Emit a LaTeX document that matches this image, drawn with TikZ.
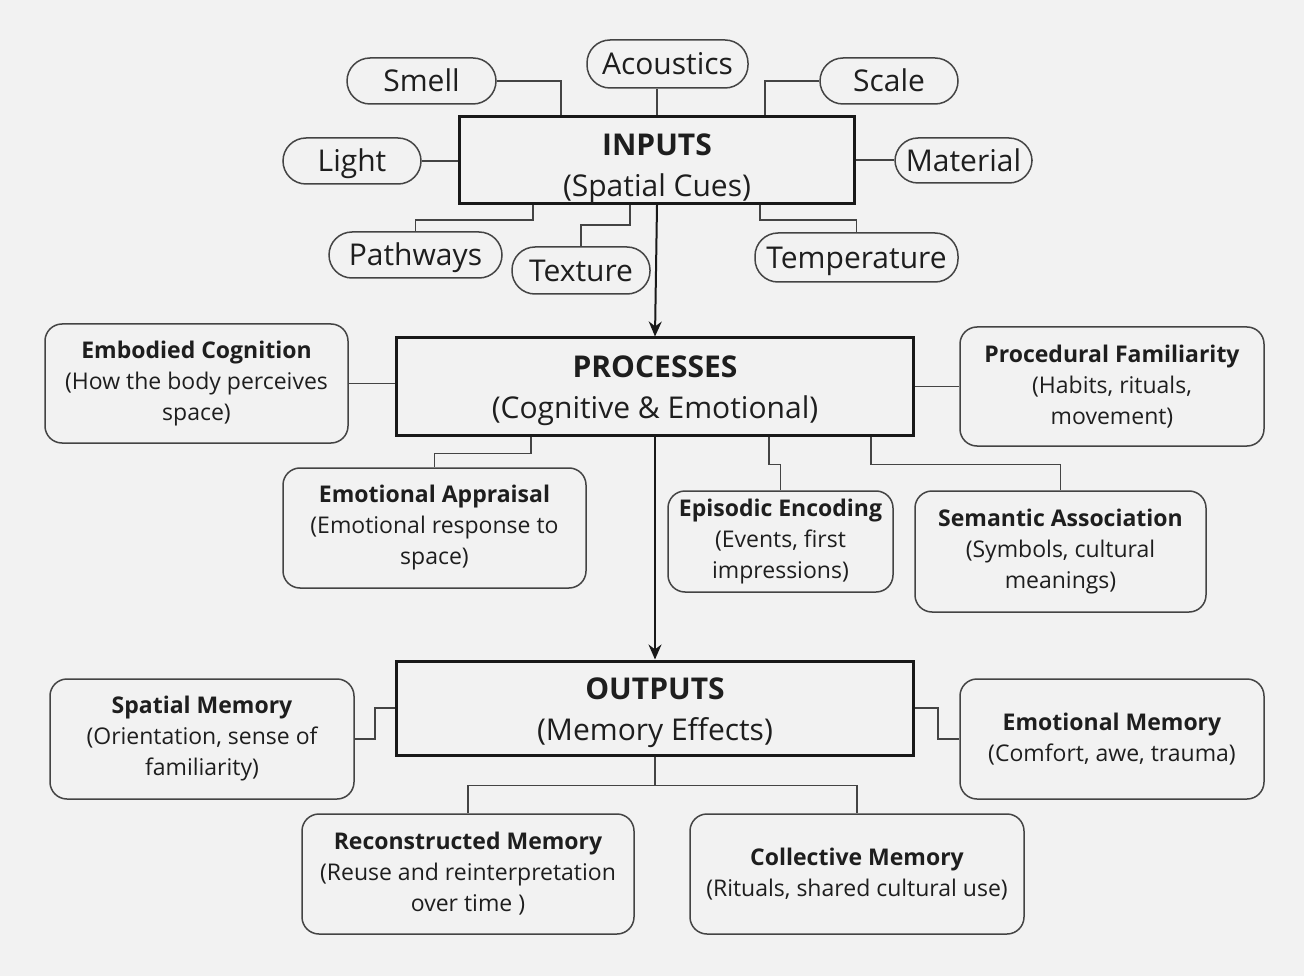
\documentclass[tikz,border=0pt]{standalone}
\usepackage{fontspec}
\setmainfont{Open Sans}
\usetikzlibrary{arrows.meta}
\definecolor{bggray}{HTML}{F2F2F2}
\definecolor{edgegray}{HTML}{444444}
\definecolor{inkgray}{HTML}{1E1E1E}
\tikzstyle{mainbox} = [draw=black!90, line width=3pt, fill=bggray, align=center, inner sep=0pt, text=inkgray, font=\fontsize{30}{41}\selectfont]
\tikzstyle{cue} = [draw=edgegray, line width=1.5pt, rounded corners=23pt, inner sep=0pt, text height=22pt, text depth=0pt, text=inkgray, font=\fontsize{30}{36}\selectfont]
\tikzstyle{effect} = [draw=edgegray, line width=1.5pt, rounded corners=17pt, align=center, inner sep=0pt, text=inkgray, font=\fontsize{23}{31}\selectfont]
\tikzstyle{link} = [draw=edgegray, line width=1.5pt]
\tikzstyle{flow} = [draw=black!90, line width=2pt, -{Stealth[length=15pt,width=13pt]}]

\begin{document}
\begin{tikzpicture}[x=1pt, y=-1pt]
		\fill[bggray] (0,0) rectangle (1304,976);
		\useasboundingbox (0,0) rectangle (1304,976);
		
		% main stages
		\node [mainbox, minimum width=395, minimum height=85] (inputs) at (657,160) {\rule{0pt}{39pt}\textbf{INPUTS}\\(Spatial Cues)};
		\node [mainbox, minimum width=517, minimum height=97] (processes) at (655,386.5) {\rule{0pt}{31pt}\textbf{PROCESSES}\\(Cognitive \& Emotional)};
		\node [mainbox, minimum width=517, minimum height=94] (outputs) at (655,708) {\rule{0pt}{31pt}\textbf{OUTPUTS}\\(Memory Effects)};
		
		% spatial cues
		\node [cue, minimum width=149, minimum height=46] (smell) at (421.5,81) {Smell};
		\node [cue, minimum width=161, minimum height=48] (acoustics) at (667.5,64) {Acoustics};
		\node [cue, minimum width=138, minimum height=46] (scale) at (889,81) {Scale};
		\node [cue, minimum width=138, minimum height=46] (light) at (352,161) {Light};
		\node [cue, minimum width=137, minimum height=45] (material) at (963.5,160.5) {Material};
		\node [cue, minimum width=173, minimum height=46] (pathways) at (415.5,255) {Pathways};
		\node [cue, minimum width=138, minimum height=47] (texture) at (581,270.5) {Texture};
		\node [cue, minimum width=203, minimum height=49] (temperature) at (856.5,257.5) {Temperature};
		
		% processes
		\node [effect, minimum width=303, minimum height=119] (embodied) at (196.5,383.5) {\textbf{Embodied Cognition}\\(How the body perceives\\space)};
		\node [effect, minimum width=304, minimum height=119] (procedural) at (1112,386.5) {\textbf{Procedural Familiarity}\\(Habits, rituals,\\movement)};
		\node [effect, minimum width=303, minimum height=120] (appraisal) at (434.5,528) {\textbf{Emotional Appraisal}\\(Emotional response to\\space)};
		\node [effect, minimum width=225, minimum height=101] (episodic) at (780.5,541.5) {\textbf{Episodic Encoding}\\(Events, first\\impressions)};
		\node [effect, minimum width=291, minimum height=121] (semantic) at (1060.5,551.5) {\textbf{Semantic Association}\\(Symbols, cultural\\meanings)};
		
		% memory effects
		\node [effect, minimum width=304, minimum height=120] (spatial) at (202,739) {\textbf{Spatial Memory}\\(Orientation, sense of\\familiarity)};
		\node [effect, minimum width=304, minimum height=120] (emomem) at (1112,739) {\textbf{Emotional Memory}\\(Comfort, awe, trauma)};
		\node [effect, minimum width=332, minimum height=120] (reconstructed) at (468,874) {\textbf{Reconstructed Memory}\\(Reuse and reinterpretation\\over time )};
		\node [effect, minimum width=334, minimum height=120] (collective) at (857,874) {\textbf{Collective Memory}\\(Rituals, shared cultural use)};
		
		% cue links
		\draw [link] (smell.east) -| ([xshift=-96]inputs.north);
		\draw [link] (inputs.north) -- (inputs.north |- acoustics.south);
		\draw [link] (scale.west) -| ([xshift=108]inputs.north);
		\draw [link] (light.east) -- (light.east -| inputs.west);
		\draw [link] (inputs.east) -- (inputs.east -| material.west);
		\draw [link] ([xshift=-124]inputs.south) -- ++(0,15) -| (pathways.north);
		\draw [link] ([xshift=-27]inputs.south) -- ++(0,20) -| (texture.north);
		\draw [link] ([xshift=103]inputs.south) -- ++(0,15) -| (temperature.north);
		
		% process links
		\draw [link] (embodied.east) -- (embodied.east -| processes.west);
		\draw [link] (processes.east) -- (processes.east -| procedural.west);
		\draw [link] ([xshift=-124]processes.south) -- ++(0,17) -| (appraisal.north);
		\draw [link] ([xshift=114]processes.south) -- ++(0,28) -| (episodic.north);
		\draw [link] ([xshift=216]processes.south) -- ++(0,28) -| (semantic.north);
		
		% output links
		\draw [link] (outputs.west) -- ++(-20,0) |- (spatial.east);
		\draw [link] (outputs.east) -- ++(23,0) |- (emomem.west);
		\draw [link] (outputs.south) -- ++(0,29) -| (reconstructed.north);
		\draw [link] (outputs.south) -- ++(0,29) -| (collective.north);
		
		% main flow
		\draw [flow] (inputs.south) -- (processes.north);
		\draw [flow] (processes.south) -- (outputs.north);
		
		\end{tikzpicture}
\end{document}
